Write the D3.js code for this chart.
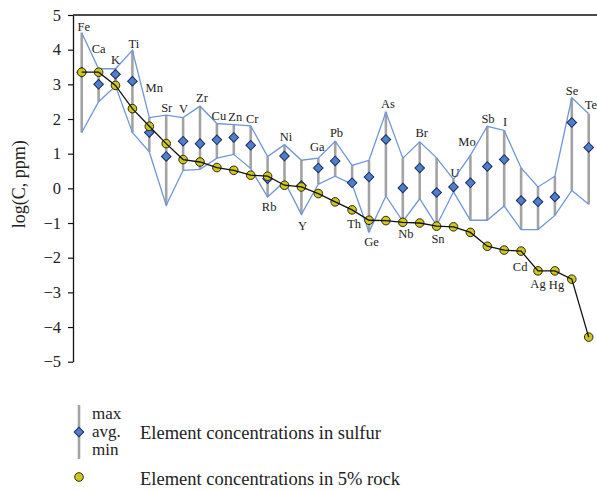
<!DOCTYPE html>
<html><head><meta charset="utf-8">
<script src="https://cdn.jsdelivr.net/npm/d3@7"></script>
<style>body{margin:0;background:#fff}svg{display:block}text{font-family:"Liberation Serif","DejaVu Serif",serif;fill:#222}</style>
</head><body><svg id="c" width="597" height="491"></svg>
<script>
const elements = ["Fe","Ca","K","Ti","Mn","Sr","V","Zr","Cu","Zn","Cr","Rb","Ni","Y","Ga","Pb","Th","Ge","As","Nb","Br","Sn","U","Mo","Sb","I","Cd","Ag","Hg","Se","Te"];
const sulfurMax = [4.49,3.45,3.45,3.98,2.04,2.11,2.04,2.37,1.87,1.84,1.80,0.92,1.26,0.81,0.87,1.36,0.66,0.81,2.20,0.87,1.34,0.88,0.26,0.95,1.79,1.67,0.59,0.04,0.35,2.61,2.15];
const sulfurAvg = [3.35,3.00,3.29,3.09,1.61,0.92,1.36,1.29,1.40,1.47,1.24,0.28,0.93,0.08,0.59,0.79,0.16,0.33,1.41,0.01,0.59,-0.12,0.04,0.16,0.63,0.83,-0.35,-0.39,-0.25,1.90,1.18];
const sulfurMin = [1.61,2.50,2.95,1.61,1.05,-0.49,0.52,0.55,0.87,0.98,0.57,-0.25,0.20,-0.75,0.12,0.35,0.12,-1.26,-0.22,-0.95,-0.30,-1.07,-0.10,-0.92,-0.92,-0.51,-1.19,-1.19,-0.78,-0.06,-0.46];
const rock5 = [3.35,3.35,2.97,2.30,1.79,1.29,0.83,0.76,0.60,0.52,0.38,0.35,0.09,0.04,-0.15,-0.39,-0.62,-0.92,-0.93,-0.98,-1.00,-1.09,-1.11,-1.27,-1.67,-1.78,-1.81,-2.38,-2.38,-2.62,-4.29];
const yTicks = [-5,-4,-3,-2,-1,0,1,2,3,4,5];
const yTitle = "log(C, ppm)";
const legendLabels = ["max","avg.","min"];
const legendSeries = ["Element concentrations in sulfur","Element concentrations in 5% rock"];

// label placement (layout): anchor, dx, dy
const labelPlace = {
 Fe:["max",2,-2],Ca:["max",0,-15.5],K:["max",0,-4.3],Ti:["max",1.5,-2.7],Mn:["max",5,-25.6],
 Sr:["max",0.5,-2.7],V:["max",0.5,-5],Zr:["max",2,-3.7],Cu:["max",2,-4],Zn:["max",1.5,-3.3],
 Cr:["max",1.5,-3.4],Rb:["min",1.5,14],Ni:["max",1.5,-3.6],Y:["min",1,15.3],Ga:["max",-1,-7],
 Pb:["max",1.3,-3.7],Th:["rock",2,18],Ge:["min",2.5,14.3],As:["max",2,-4.4],Nb:["min",3,17],
 Br:["max",2,-4.4],Sn:["min",1.4,17.7],U:["max",1.5,-2],Mo:["max",-3.4,-9],Sb:["max",0.7,-3.3],
 I:["max",0.8,-4],Cd:["rock",-1,20],Ag:["rock",0,17],Hg:["rock",1.6,18.6],Se:["max",0.2,-3.3],Te:["max",2.3,-5]
};

const svg = d3.select("#c");
const x = d3.scalePoint().domain(elements).range([81.7, 588.7]);
const y = d3.scaleLinear().domain([-5,5]).range([361.7, 15]);
const data = elements.map((e,i)=>({e, max:sulfurMax[i], avg:sulfurAvg[i], min:sulfurMin[i], rock:rock5[i]}));

// frame
svg.append("line").attr("x1",73).attr("x2",597).attr("y1",y(5)).attr("y2",y(5)).attr("stroke","#111").attr("stroke-width",1.3);

// axis
const ax = svg.append("g").attr("transform","translate(73,0)")
 .call(d3.axisLeft(y).tickValues(yTicks).tickSizeInner(5).tickSizeOuter(0).tickPadding(7)
 .tickFormat(d => d<0 ? "\u2212"+Math.abs(d) : String(d)));
ax.select(".domain").attr("stroke","#111").attr("stroke-width",1.3);
ax.selectAll(".tick line").attr("stroke","#111").attr("stroke-width",1.2);
ax.selectAll(".tick text").attr("font-family","Liberation Serif, serif").attr("font-size",16.5).attr("fill","#222");

svg.append("text").attr("transform",`translate(25,${y(0)-4}) rotate(-90)`).attr("text-anchor","middle")
 .attr("font-size",18).text(yTitle);

// gray range lines
svg.append("g").selectAll("line").data(data).join("line")
 .attr("x1",d=>x(d.e)).attr("x2",d=>x(d.e)).attr("y1",d=>y(d.max)).attr("y2",d=>y(d.min))
 .attr("stroke","#a3a3a3").attr("stroke-width",2.6);

// blue max/min lines
const lineMax = d3.line().x(d=>x(d.e)).y(d=>y(d.max));
const lineMin = d3.line().x(d=>x(d.e)).y(d=>y(d.min));
svg.append("path").attr("d",lineMax(data)).attr("fill","none").attr("stroke","#6f96d8").attr("stroke-width",1.3);
svg.append("path").attr("d",lineMin(data)).attr("fill","none").attr("stroke","#6f96d8").attr("stroke-width",1.3);

// diamonds
const dsym = d3.symbol().type(d3.symbolSquare).size(46);
svg.append("g").selectAll("path").data(data).join("path")
 .attr("d",dsym).attr("transform",d=>`translate(${x(d.e)},${y(d.avg)}) rotate(45)`)
 .attr("fill","#4f7fcb").attr("stroke","#1a2c63").attr("stroke-width",1);

// rock circles & line
svg.append("g").selectAll("circle").data(data).join("circle")
 .attr("cx",d=>x(d.e)).attr("cy",d=>y(d.rock)).attr("r",4.3)
 .attr("fill","#cfc61e").attr("stroke","#2a2a10").attr("stroke-width",1);
const lineRock = d3.line().x(d=>x(d.e)).y(d=>y(d.rock));
svg.append("path").attr("d",lineRock(data)).attr("fill","none").attr("stroke","#111").attr("stroke-width",1.3);

// element labels
svg.append("g").selectAll("text").data(data).join("text")
 .attr("x",d=>x(d.e)+labelPlace[d.e][1])
 .attr("y",d=>y(d[labelPlace[d.e][0]])+labelPlace[d.e][2])
 .attr("text-anchor","middle").attr("font-size",12.5).text(d=>d.e);

// legend
const lg = svg.append("g");
lg.append("line").attr("x1",79).attr("x2",79).attr("y1",405).attr("y2",459).attr("stroke","#a3a3a3").attr("stroke-width",2.6);
lg.append("path").attr("d",dsym()).attr("transform","translate(79,432) rotate(45)").attr("fill","#4f7fcb").attr("stroke","#1a2c63").attr("stroke-width",1);
legendLabels.forEach((t,i)=>lg.append("text").attr("x",92).attr("y",418.5+i*18.3).attr("font-size",17).text(t));
lg.append("text").attr("x",140).attr("y",438.5).attr("font-size",18.5).text(legendSeries[0]);
lg.append("circle").attr("cx",79).attr("cy",477).attr("r",4.3).attr("fill","#cfc61e").attr("stroke","#2a2a10").attr("stroke-width",1);
lg.append("text").attr("x",140).attr("y",485).attr("font-size",18.5).text(legendSeries[1]);
</script></body></html>
